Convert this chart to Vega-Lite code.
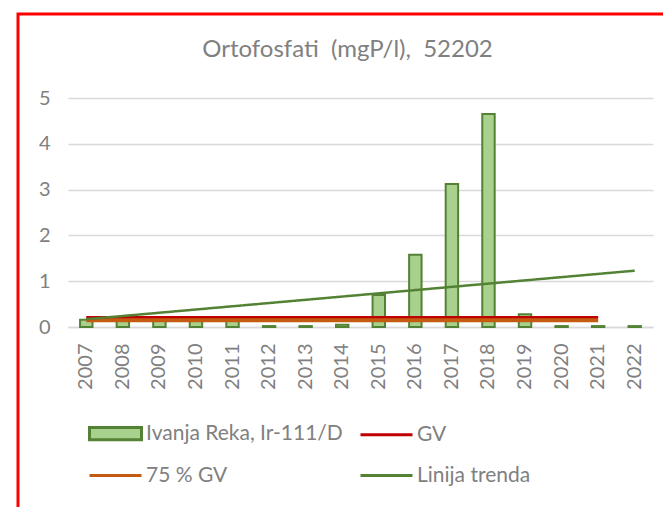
{
  "$schema": "https://vega.github.io/schema/vega-lite/v6.json",
  "width": 585,
  "height": 229,
  "autosize": {"type": "none"},
  "padding": {"left": 68, "top": 98, "right": 10, "bottom": 180},
  "background": "white",
  "title": {
    "text": "Ortofosfati \u00a0(mgP/l), \u00a052202",
    "font": "Lato",
    "fontSize": 24,
    "fontWeight": "normal",
    "color": "#808080",
    "anchor": "middle",
    "frame": "group",
    "dx": -13,
    "offset": -49
  },
  "config": {"view": {"stroke": null}},
  "data": {
    "values": [
      {"year": "2007", "value": 0.16, "series": "Ivanja Reka, Ir-111/D"},
      {"year": "2008", "value": 0.14, "series": "Ivanja Reka, Ir-111/D"},
      {"year": "2009", "value": 0.14, "series": "Ivanja Reka, Ir-111/D"},
      {"year": "2010", "value": 0.14, "series": "Ivanja Reka, Ir-111/D"},
      {"year": "2011", "value": 0.14, "series": "Ivanja Reka, Ir-111/D"},
      {"year": "2012", "value": 0.02, "series": "Ivanja Reka, Ir-111/D"},
      {"year": "2013", "value": 0.02, "series": "Ivanja Reka, Ir-111/D"},
      {"year": "2014", "value": 0.05, "series": "Ivanja Reka, Ir-111/D"},
      {"year": "2015", "value": 0.7, "series": "Ivanja Reka, Ir-111/D"},
      {"year": "2016", "value": 1.58, "series": "Ivanja Reka, Ir-111/D"},
      {"year": "2017", "value": 3.12, "series": "Ivanja Reka, Ir-111/D"},
      {"year": "2018", "value": 4.65, "series": "Ivanja Reka, Ir-111/D"},
      {"year": "2019", "value": 0.28, "series": "Ivanja Reka, Ir-111/D"},
      {"year": "2020", "value": 0.02, "series": "Ivanja Reka, Ir-111/D"},
      {"year": "2021", "value": 0.02, "series": "Ivanja Reka, Ir-111/D"},
      {"year": "2022", "value": 0.02, "series": "Ivanja Reka, Ir-111/D"},
      {"year": "2007", "value": 0.2, "series": "GV"},
      {"year": "2021", "value": 0.2, "series": "GV"},
      {"year": "2007", "value": 0.15, "series": "75 % GV"},
      {"year": "2021", "value": 0.15, "series": "75 % GV"},
      {"year": "2007", "value": 0.17, "series": "Linija trenda"},
      {"year": "2022", "value": 1.23, "series": "Linija trenda"}
    ]
  },
  "encoding": {
    "x": {
      "field": "year",
      "type": "ordinal",
      "scale": {"paddingInner": 0.66, "paddingOuter": 0.33},
      "axis": {
        "title": null,
        "labelAngle": -90,
        "labelFont": "Lato",
        "labelFontSize": 20,
        "labelColor": "#808080",
        "ticks": false,
        "labelPadding": 16,
        "domainColor": "#d9d9d9",
        "domainWidth": 1.5
      }
    },
    "y": {
      "field": "value",
      "type": "quantitative",
      "scale": {"domain": [0, 5], "nice": false},
      "axis": {
        "title": null,
        "values": [0, 1, 2, 3, 4, 5],
        "domain": false,
        "ticks": false,
        "grid": true,
        "gridColor": "#d9d9d9",
        "gridWidth": 1.5,
        "labelFont": "Lato",
        "labelFontSize": 20,
        "labelColor": "#808080",
        "labelPadding": 18
      }
    },
    "stroke": {
      "field": "series",
      "type": "nominal",
      "scale": {
        "domain": ["Ivanja Reka, Ir-111/D", "75 % GV", "GV", "Linija trenda"],
        "range": ["#548235", "#c55a11", "#c00000", "#548235"]
      },
      "legend": {
        "title": null,
        "orient": "none",
        "legendX": 20,
        "legendY": 308,
        "columns": 2,
        "padding": 0,
        "columnPadding": 11,
        "rowPadding": 2,
        "labelOffset": 3,
        "labelLimit": 400,
        "labelFont": "Lato",
        "labelFontSize": 21,
        "labelColor": "#808080",
        "symbolSize": 2704,
        "symbolStrokeWidth": 3,
        "encode": {
          "symbols": {
            "update": {
              "shape": {"signal": "datum.value === 'Ivanja Reka, Ir-111/D' ? 'M-1,-0.24H1V0.24H-1Z' : 'stroke'"}
            }
          }
        }
      }
    }
  },
  "layer": [
    {
      "transform": [{"filter": "datum.series === 'Ivanja Reka, Ir-111/D'"}],
      "mark": {"type": "bar", "strokeWidth": 2},
      "encoding": {
        "fill": {
          "field": "series",
          "type": "nominal",
          "scale": {
            "domain": ["Ivanja Reka, Ir-111/D", "75 % GV", "GV", "Linija trenda"],
            "range": ["#a9d18e", "transparent", "transparent", "transparent"]
          },
          "legend": {
            "title": null,
            "orient": "none",
            "legendX": 20,
            "legendY": 308,
            "columns": 2,
            "padding": 0,
            "columnPadding": 11,
            "rowPadding": 2,
            "labelOffset": 3,
            "labelLimit": 400,
            "labelFont": "Lato",
            "labelFontSize": 21,
            "labelColor": "#808080",
            "symbolSize": 2704,
            "symbolStrokeWidth": 3,
            "encode": {
              "symbols": {
                "update": {
                  "shape": {"signal": "datum.value === 'Ivanja Reka, Ir-111/D' ? 'M-1,-0.24H1V0.24H-1Z' : 'stroke'"}
                }
              }
            }
          }
        }
      }
    },
    {
      "transform": [{"filter": "datum.series === 'GV'"}],
      "mark": {"type": "line", "strokeWidth": 3.5}
    },
    {
      "transform": [{"filter": "datum.series === '75 % GV'"}],
      "mark": {"type": "line", "strokeWidth": 4}
    },
    {
      "transform": [{"filter": "datum.series === 'Linija trenda'"}],
      "mark": {"type": "line", "strokeWidth": 2.5},
      "encoding": {
        "strokeDash": {
          "datum": "okvir",
          "type": "nominal",
          "scale": {"range": [[1, 0]]},
          "legend": {
            "title": null,
            "orient": "none",
            "legendX": -50,
            "legendY": -84,
            "padding": 340,
            "strokeColor": "#ff0000",
            "symbolOpacity": 0,
            "labelExpr": "''",
            "symbolSize": 1,
            "encode": {"legend": {"update": {"strokeWidth": {"value": 3}}}}
          }
        }
      }
    }
  ]
}
